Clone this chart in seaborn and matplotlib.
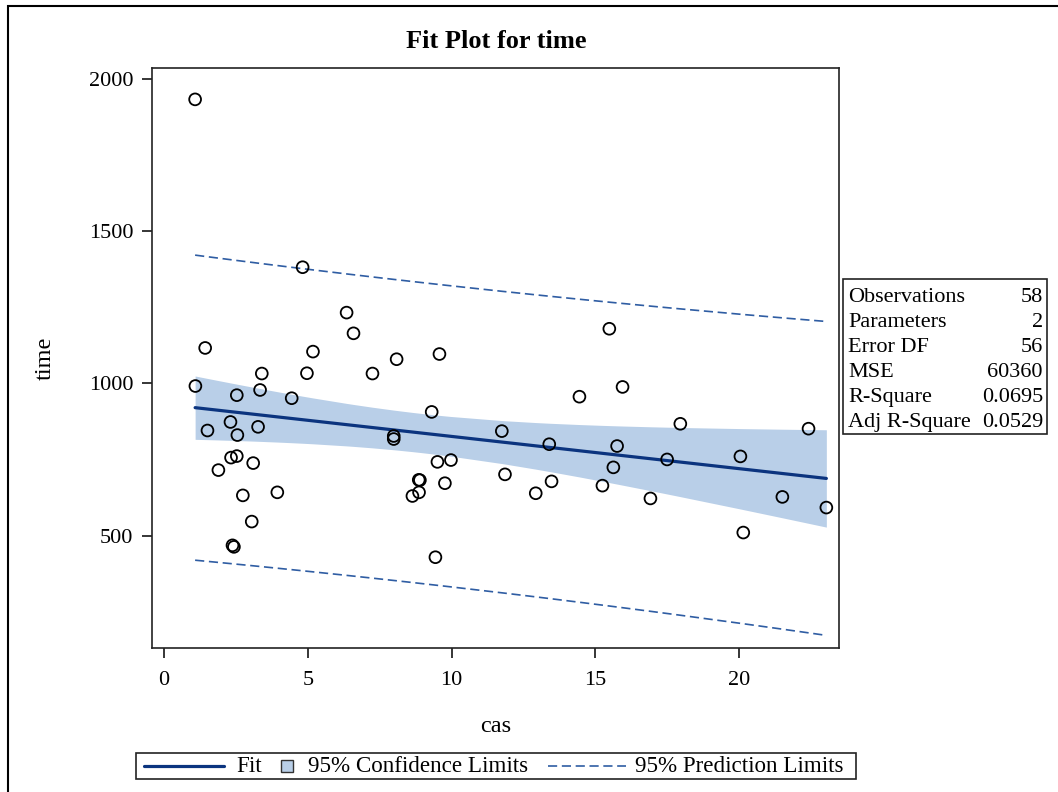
import numpy as np
import seaborn as sns
import matplotlib.pyplot as plt
from matplotlib.patches import Rectangle
from matplotlib.lines import Line2D
from matplotlib.offsetbox import AnchoredOffsetbox, DrawingArea, HPacker, TextArea

# data
cas = [1.08, 4.82, 6.35, 6.59, 1.43, 5.18, 3.40, 4.97, 7.25, 1.09,
       3.34, 2.53, 4.44, 1.51, 2.31, 3.27, 2.55, 2.33, 2.53, 3.10,
       1.89, 2.74, 3.94, 3.05, 2.38, 2.43, 8.09, 9.58, 15.49, 14.45,
       15.95, 9.31, 11.75, 7.99, 7.99, 13.40, 15.76, 9.51, 9.98, 15.63,
       11.86, 8.86, 8.90, 9.77, 13.48, 8.87, 8.64, 12.93, 15.25, 9.44,
       17.96, 22.42, 17.50, 20.05, 16.92, 21.51, 23.04, 20.15]
time = [1932, 1381, 1232, 1164, 1116, 1104, 1032, 1033, 1032, 991,
        978, 961, 951, 845, 873, 857, 830, 756, 761, 738,
        715, 632, 642, 546, 468, 463, 1079, 1096, 1179, 956,
        988, 906, 843, 827, 817, 800, 794, 742, 748, 724,
        701, 683, 682, 672, 678, 642, 630, 639, 664, 429,
        867, 851, 750, 760, 622, 627, 592, 510]

stat_labels = ["Observations", "Parameters", "Error DF", "MSE", "R-Square", "Adj R-Square"]
stat_values = ["58", "2", "56", "60360", "0.0695", "0.0529"]

x_ticks = [0, 5, 10, 15, 20]
y_ticks = [500, 1000, 1500, 2000]

FIT_COLOR = "#0b347f"
BAND_COLOR = "#b9cfe8"
PRED_COLOR = "#2f5da3"
PRED_DASH = (0, (5.5, 2.8))
T_975 = 2.0032  # t quantile, df = 56


def fit_limits(x, y):
    # ordinary least squares + 95% confidence / prediction limits
    n = len(x)
    b1, b0 = np.polyfit(x, y, 1)
    resid = y - (b0 + b1 * x)
    mse = np.sum(resid ** 2) / (n - 2)
    xs = np.unique(x)
    pred = b0 + b1 * xs
    sxx = np.sum((x - x.mean()) ** 2)
    lev = 1 / n + (xs - x.mean()) ** 2 / sxx
    ci = T_975 * np.sqrt(mse * lev)
    pi = T_975 * np.sqrt(mse * (1 + lev))
    return xs, pred, ci, pi


def main():
    sns.set_theme(style="ticks")
    plt.rcParams["font.family"] = ["Liberation Serif", "DejaVu Serif"]
    plt.rcParams.update({"text.color": "black", "axes.labelcolor": "black",
                         "xtick.color": "black", "ytick.color": "black"})

    W, H = 1058, 792
    fig = plt.figure(figsize=(W / 100, H / 100), dpi=100)
    ax = fig.add_axes([152 / W, 1 - 648 / H, 687 / W, 580 / H])

    x = np.array(cas, dtype=float)
    y = np.array(time, dtype=float)
    xs, pred, ci, pi = fit_limits(x, y)

    ax.fill_between(xs, pred - ci, pred + ci, color=BAND_COLOR, lw=0, zorder=1)
    sns.lineplot(x=xs, y=pred, ax=ax, color=FIT_COLOR, lw=2.3, zorder=3)
    for lim in (pred - pi, pred + pi):
        sns.lineplot(x=xs, y=lim, ax=ax, color=PRED_COLOR, lw=1.2,
                     linestyle=PRED_DASH, zorder=3)
    sns.scatterplot(x=x, y=y, ax=ax, s=72, marker="o", facecolors="none",
                    edgecolor="black", linewidth=1.3, zorder=4)

    ax.set_xlim(-0.42, 23.48)
    ax.set_ylim(131, 2035)
    ax.set_xticks(x_ticks)
    ax.set_yticks(y_ticks)
    ax.tick_params(labelsize=16, length=7.5, width=1.1)
    ax.tick_params(axis="x", pad=9)
    ax.tick_params(axis="y", pad=6)
    for sp in ax.spines.values():
        sp.set_visible(True)
        sp.set_color("#222222")
        sp.set_linewidth(1.2)

    ax.set_xlabel("cas", fontsize=17.5)
    ax.set_ylabel("time", fontsize=17.5)
    ax.xaxis.label.set_va("center")
    ax.yaxis.label.set_va("center")
    ax.xaxis.set_label_coords(0.5, -(726 - 648) / 580)
    ax.yaxis.set_label_coords((45 - 152) / 687, 0.5)

    fig.text(496 / W, 1 - 41 / H, "Fit Plot for time", ha="center", va="center",
             fontsize=19, fontweight="bold")

    # statistics box
    fig.patches.append(Rectangle((843 / W, 1 - 434 / H), 204 / W, 155 / H,
                                 transform=fig.transFigure, fill=False,
                                 edgecolor="#222222", lw=1.2))
    for i, (lab, val) in enumerate(zip(stat_labels, stat_values)):
        yy = 1 - (297 + i * 25.1) / H
        fig.text(848 / W, yy, lab, ha="left", va="center", fontsize=16)
        fig.text(1043 / W, yy, val, ha="right", va="center", fontsize=16)

    # legend at the bottom
    fs = 16.6
    tp = dict(fontsize=fs)
    da_fit = DrawingArea(61.5, 10, 0, 0)
    da_fit.add_artist(Line2D([4, 61.5], [5, 5], color=FIT_COLOR, lw=2.3))
    da_sq = DrawingArea(8.6, 10, 0, 0)
    da_sq.add_artist(Rectangle((0, 0.7), 8.6, 8.6, facecolor=BAND_COLOR,
                               edgecolor="#333333", lw=1.0))
    da_pred = DrawingArea(56, 10, 0, 0)
    da_pred.add_artist(Line2D([0, 56], [5, 5], color=PRED_COLOR, lw=1.2,
                              linestyle=PRED_DASH))
    spacer = DrawingArea(0, 10, 0, 0)
    g1 = HPacker(children=[da_fit, TextArea("Fit", textprops=tp)], sep=8.6, align="center")
    g2 = HPacker(children=[da_sq, TextArea("95% Confidence Limits", textprops=tp)],
                 sep=11, align="center")
    g3 = HPacker(children=[da_pred, TextArea("95% Prediction Limits", textprops=tp), spacer],
                 sep=7, align="center")
    row = HPacker(children=[g1, g2, g3], sep=14, align="center")
    leg = AnchoredOffsetbox(loc="center", child=row, pad=0.1, borderpad=0,
                            frameon=True, prop=dict(size=fs),
                            bbox_to_anchor=(496 / W, 1 - 766 / H),
                            bbox_transform=fig.transFigure)
    leg.patch.set_edgecolor("#222222")
    leg.patch.set_linewidth(1.2)
    leg.patch.set_boxstyle("square", pad=0)
    fig.add_artist(leg)

    # outer frame of the graph
    fig.patches.append(Rectangle((8 / W, -0.1), 1.2, 1.1 - 6 / H,
                                 transform=fig.transFigure, fill=False,
                                 edgecolor="black", lw=1.5))

    fig.savefig("out.png", dpi=100)


if __name__ == "__main__":
    main()
